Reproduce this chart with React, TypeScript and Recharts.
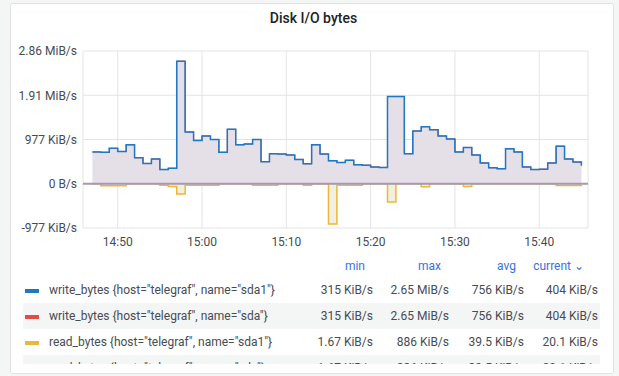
import { ComposedChart, Area, XAxis, YAxis, CartesianGrid, ReferenceLine } from 'recharts';

// one sample per minute, values in MB/s (1e6 bytes/s)
const times = [
  '14:47', '14:48', '14:49', '14:50', '14:51', '14:52', '14:53', '14:54', '14:55', '14:56',
  '14:57', '14:58', '14:59', '15:00', '15:01', '15:02', '15:03', '15:04', '15:05', '15:06',
  '15:07', '15:08', '15:09', '15:10', '15:11', '15:12', '15:13', '15:14', '15:15', '15:16',
  '15:17', '15:18', '15:19', '15:20', '15:21', '15:22', '15:23', '15:24', '15:25', '15:26',
  '15:27', '15:28', '15:29', '15:30', '15:31', '15:32', '15:33', '15:34', '15:35', '15:36',
  '15:37', '15:38', '15:39', '15:40', '15:41', '15:42', '15:43', '15:44', '15:45',
];

const writeBytes = [
  0.72, 0.71, 0.8, 0.73, 0.88, 0.59, 0.46, 0.56, 0.32, 0.35,
  2.77, 1.17, 0.98, 1.08, 1.0, 0.71, 1.23, 0.88, 0.9, 1.0,
  0.5, 0.68, 0.67, 0.65, 0.55, 0.45, 0.88, 0.67, 0.52, 0.48,
  0.53, 0.43, 0.42, 0.38, 0.37, 1.97, 1.97, 0.68, 1.19, 1.29,
  1.22, 1.08, 1.01, 0.72, 0.82, 0.65, 0.47, 0.36, 0.34, 0.79,
  0.72, 0.38, 0.32, 0.33, 0.47, 0.85, 0.56, 0.49, 0.41,
];

// read bytes are drawn below zero
const readBytes = [
  -0.002, -0.045, -0.045, -0.045, -0.002, -0.002, -0.002, -0.002, -0.035, -0.06,
  -0.23, -0.035, -0.035, -0.035, -0.035, -0.002, -0.002, -0.002, -0.002, -0.035,
  -0.035, -0.035, -0.002, -0.002, -0.002, -0.035, -0.002, -0.002, -0.91, -0.035,
  -0.035, -0.035, -0.002, -0.002, -0.002, -0.41, -0.002, -0.002, -0.002, -0.065,
  -0.002, -0.002, -0.002, -0.002, -0.06, -0.002, -0.002, -0.002, -0.002, -0.002,
  -0.002, -0.002, -0.002, -0.002, -0.002, -0.04, -0.04, -0.04, -0.02,
];

const xRange = ['14:45:53', '15:45:47'];
const xTicks = ['14:50', '15:00', '15:10', '15:20', '15:30', '15:40'];
const yTicks = [-1e6, 0, 1e6, 2e6, 3e6];

const seriesNames = [
  'write_bytes {host="telegraf", name="sda1"}',
  'write_bytes {host="telegraf", name="sda"}',
  'read_bytes {host="telegraf", name="sda1"}',
  'read_bytes {host="telegraf", name="sda"}',
];
const seriesColors = ['#1f78c1', '#e24d42', '#eab839', '#7eb26d'];
const statMin = ['315 KiB/s', '315 KiB/s', '1.67 KiB/s', '1.67 KiB/s'];
const statMax = ['2.65 MiB/s', '2.65 MiB/s', '886 KiB/s', '886 KiB/s'];
const statAvg = ['756 KiB/s', '756 KiB/s', '39.5 KiB/s', '39.5 KiB/s'];
const statCurrent = ['404 KiB/s', '404 KiB/s', '20.1 KiB/s', '20.1 KiB/s'];

// "hh:mm" or "hh:mm:ss" -> minutes since midnight
const toMin = (s: string) => {
  const [h, m, sec = 0] = s.split(':').map(Number);
  return h * 60 + m + sec / 60;
};

const pad = (n: number) => String(n).padStart(2, '0');
const fmtTime = (v: number) => `${pad(Math.floor(v / 60))}:${pad(Math.round(v % 60))}`;

const fmtBytes = (v: number) => {
  const a = Math.abs(v);
  if (a === 0) return '0 B/s';
  if (a >= 1048576) return `${(v / 1048576).toFixed(2)} MiB/s`;
  return `${Math.round(v / 1024)} KiB/s`;
};

const data = times.map((t, i) => ({
  t: toMin(t),
  write: writeBytes[i] * 1e6,
  read: readBytes[i] * 1e6,
}));

const FONT = 'Roboto, "Open Sans", sans-serif';
const TEXT = '#464c54';
const LINK = '#3871dc';
const statCols = [
  { vals: statMin, label: 'min', right: 373, headRight: 365 },
  { vals: statMax, label: 'max', right: 449, headRight: 441 },
  { vals: statAvg, label: 'avg', right: 524, headRight: 516 },
  { vals: statCurrent, label: 'current ⌄', right: 598, headRight: 584 },
];

export default function App() {
  return (
    <div style={{ position: 'absolute', left: 0, top: 0, width: 619, height: 376, background: '#f4f5f5', fontFamily: FONT, overflow: 'hidden' }}>
      <div style={{ position: 'absolute', left: 10, top: 3, width: 602, height: 369, background: '#fff', border: '1px solid #e0e2e6', borderRadius: 3 }} />
      <div style={{ position: 'absolute', left: 0, top: 10, width: 619, textAlign: 'center', fontSize: 14, fontWeight: 500, color: '#202226', paddingLeft: 4 }}>
        Disk I/O bytes
      </div>

      <div style={{ position: 'absolute', left: 0, top: 0 }}>
        <ComposedChart width={619} height={260} data={data} margin={{ top: 51, right: 31, bottom: 12, left: 0 }}>
          <CartesianGrid stroke="#e4e4e4" strokeWidth={1} />
          <XAxis
            dataKey="t"
            type="number"
            domain={xRange.map(toMin)}
            ticks={xTicks.map(toMin)}
            tickFormatter={fmtTime}
            allowDataOverflow
            axisLine={false}
            tickLine={false}
            tickSize={0}
            tickMargin={9}
            height={20}
            tick={{ fontSize: 12, fill: TEXT, fontFamily: FONT }}
          />
          <YAxis
            type="number"
            domain={[-1e6, 3e6]}
            ticks={yTicks}
            tickFormatter={fmtBytes}
            axisLine={false}
            tickLine={false}
            tickSize={0}
            tickMargin={6}
            width={83}
            tick={{ fontSize: 12, fill: TEXT, fontFamily: FONT }}
          />
          <Area
            type="stepAfter"
            dataKey="write"
            baseValue={0}
            stroke="#e24d42"
            strokeWidth={1}
            fill="#e5dfe7"
            fillOpacity={1}
            isAnimationActive={false}
          />
          <Area
            type="stepAfter"
            dataKey="read"
            baseValue={0}
            stroke="#eab839"
            strokeWidth={1.5}
            fill="#f1f0dc"
            fillOpacity={1}
            isAnimationActive={false}
          />
          <Area
            type="stepAfter"
            dataKey="write"
            baseValue={0}
            stroke="#1f78c1"
            strokeWidth={1.5}
            fill="none"
            isAnimationActive={false}
          />
          <ReferenceLine y={0} stroke="#a797b1" strokeWidth={2} />
        </ComposedChart>
      </div>

      {statCols.map((c) => (
        <div key={c.label} style={{ position: 'absolute', top: 258, right: 619 - c.headRight, fontSize: 12, color: LINK, lineHeight: '16px', whiteSpace: 'nowrap' }}>
          {c.label}
        </div>
      ))}

      {/* legend table scrolls, so the last row is cut off like in the panel */}
      <div style={{ position: 'absolute', left: 23, top: 277, width: 577, height: 87, overflow: 'hidden' }}>
        {seriesNames.map((name, i) => (
          <div key={i} style={{ position: 'absolute', left: 0, top: i * 26, width: 577, height: 26, background: i % 2 === 1 ? '#f4f5f5' : 'transparent' }}>
            <div style={{ position: 'absolute', left: 2, top: 12, width: 14, height: 4, background: seriesColors[i] }} />
            <div style={{ position: 'absolute', left: 26, top: 5, fontSize: 12, color: TEXT, lineHeight: '16px', whiteSpace: 'nowrap' }}>{name}</div>
            {statCols.map((c) => (
              <div key={c.label} style={{ position: 'absolute', right: 600 - c.right, top: 5, fontSize: 12, color: TEXT, lineHeight: '16px', whiteSpace: 'nowrap' }}>
                {c.vals[i]}
              </div>
            ))}
          </div>
        ))}
      </div>
    </div>
  );
}
